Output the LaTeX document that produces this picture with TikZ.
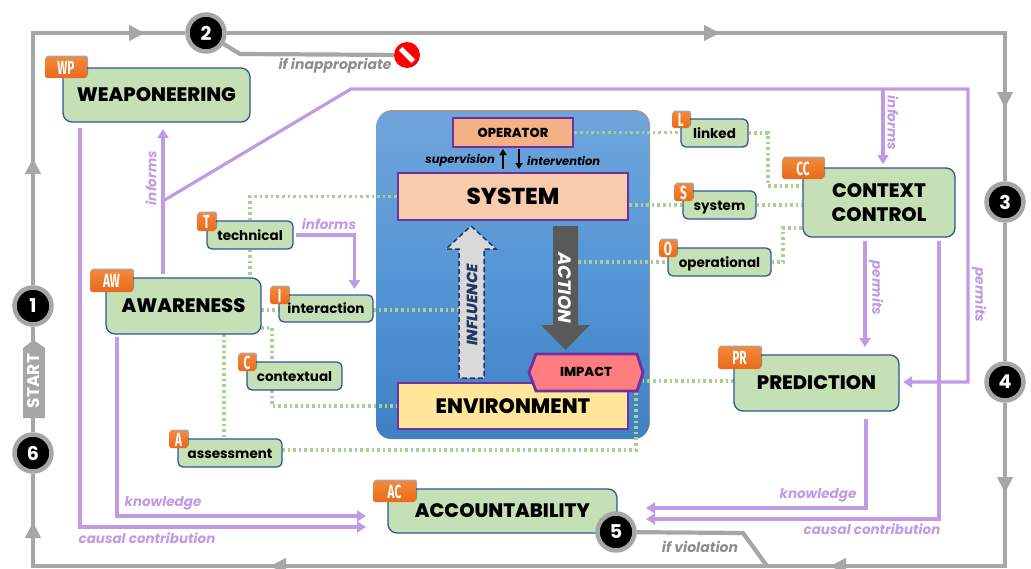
\documentclass[tikz,border=0pt]{standalone}
\usepackage{fontspec}
\setmainfont{Poppins}
\newfontfamily\heavyfont{Poppins ExtraBold}
\newfontfamily\badgefont[FakeStretch=0.62]{Fira Sans}
\usetikzlibrary{arrows.meta,shadows,backgrounds}
\definecolor{framegray}{HTML}{A6A6A6}
\definecolor{lilac}{HTML}{C09AE2}
\definecolor{boxgreen}{HTML}{C5E0B4}
\definecolor{boxblue}{HTML}{2F5597}
\definecolor{dotgreen}{HTML}{A9D18E}
\definecolor{deeppurple}{HTML}{7030A0}
\definecolor{navy}{HTML}{1F3864}
\definecolor{badgetop}{HTML}{F4883A}
\definecolor{badgebottom}{HTML}{E96A1C}
\definecolor{paneltop}{HTML}{6FA5DC}
\definecolor{panelmid}{HTML}{5596D6}
\definecolor{panelbottom}{HTML}{3F80C4}
\definecolor{operatorfill}{HTML}{F4B183}
\definecolor{systemfill}{HTML}{F8CBAD}
\definecolor{envfill}{HTML}{FFE699}
\definecolor{impactfill}{HTML}{FF7C80}
\definecolor{influencefill}{HTML}{D9D9D9}
\definecolor{actionfill}{HTML}{595959}
\tikzset{
	framepath/.style={draw=framegray, line width=4.2},
	frametip/.style={draw=framegray, line width=4.2, -{Triangle[length=16,width=15]}},
	stepmark/.style={circle, draw=framegray, line width=4.5, fill=black, text=white, minimum size=37, inner sep=0, font=\bfseries\fontsize{19}{19}\selectfont},
	purplearrow/.style={draw=lilac, line width=3.2, -{Triangle[length=9,width=11]}},
	greenlink/.style={draw=dotgreen, line width=3.2, dash pattern=on 2.6 off 3},
	bigbox/.style={draw=boxblue, line width=1.3, fill=boxgreen, rounded corners=9, inner sep=0, align=center, font=\heavyfont\fontsize{19.5}{24.5}\selectfont},
	smallbox/.style={draw=boxblue, line width=1.3, fill=boxgreen, rounded corners=5, inner sep=0, text height=12, text depth=2, font=\fontsize{13.5}{14}\selectfont\bfseries},
	badge/.style={rounded corners=2.5, top color=badgetop, bottom color=badgebottom, text=white, inner sep=0, font=\badgefont\bfseries\fontsize{19}{19}\selectfont, drop shadow={shadow xshift=1, shadow yshift=-1.5, opacity=0.35, fill=black}},
	redbox/.style={draw=deeppurple, line width=2.8, inner sep=0, font=\heavyfont\fontsize{23}{23}\selectfont},
	plainlabel/.style={inner sep=0, text=lilac, font=\bfseries\itshape\fontsize{13.5}{14}\selectfont},
	graylabel/.style={inner sep=0, text=framegray!85!black, font=\bfseries\itshape\fontsize{14}{14}\selectfont},
	blacklabel/.style={inner sep=0, font=\bfseries\itshape\fontsize{11.5}{12}\selectfont}
}
\begin{document}
\begin{tikzpicture}[x=1pt, y=-1pt]
	\useasboundingbox (0,0) rectangle (1031,568);
	% blue panel goes under everything
	\begin{pgfonlayer}{background}
		\node[rounded corners=15, minimum width=273, minimum height=327, inner sep=0, top color=paneltop, bottom color=panelbottom, middle color=panelmid, drop shadow={shadow xshift=1, shadow yshift=-2, opacity=0.4, fill=black}] (panel) at (512.5,275.5) {};
	\end{pgfonlayer}

	% corners of the loop
	\coordinate (topleft) at (33,33);
	\coordinate (topright) at (1005,33);
	\coordinate (bottomright) at (1005,566);
	\coordinate (bottomleft) at (33,566);
	\coordinate (halt) at (240,54);
	\coordinate (veerstart) at (743,533);
	\coordinate (veerend) at (767,566);

	% main green boxes
	\node[bigbox, minimum width=187, minimum height=54] (weaponeering) at (156.5,95) {WEAPONEERING};
	\node[bigbox, minimum width=155, minimum height=56] (awareness) at (183.5,306) {AWARENESS};
	\node[bigbox, minimum width=152, minimum height=69] (contextcontrol) at (879,202.5) {CONTEXT\\CONTROL};
	\node[bigbox, minimum width=165, minimum height=56] (prediction) at (816.5,383) {PREDICTION};
	\node[bigbox, minimum width=229, minimum height=44] (accountability) at (502.5,511) {ACCOUNTABILITY};

	% small green boxes
	\node[smallbox, minimum width=86, minimum height=28] (technical) at (250,235) {technical};
	\node[smallbox, minimum width=94, minimum height=27] (interaction) at (326,308.5) {interaction};
	\node[smallbox, minimum width=95, minimum height=28] (contextual) at (294.5,376) {contextual};
	\node[smallbox, minimum width=104, minimum height=28] (assessment) at (230,453) {assessment};
	\node[smallbox, minimum width=67, minimum height=28] (linked) at (714.5,133) {linked};
	\node[smallbox, minimum width=73, minimum height=28] (system) at (719.5,205) {system};
	\node[smallbox, minimum width=103, minimum height=28] (operational) at (719.5,262) {operational};

	% orange badges
	\node[badge, minimum width=42, minimum height=21] (wpbadge) at (66,67.5) {WP};
	\node[badge, minimum width=43, minimum height=22] (awbadge) at (111.5,281) {AW};
	\node[badge, minimum width=42, minimum height=21] (ccbadge) at (803,168.5) {CC};
	\node[badge, minimum width=43, minimum height=22] (prbadge) at (739.5,358) {PR};
	\node[badge, minimum width=43, minimum height=21] (acbadge) at (394.5,491.5) {AC};
	\node[badge, minimum width=19, minimum height=18] (tbadge) at (206.5,222) {T};
	\node[badge, minimum width=19, minimum height=17] (ibadge) at (279.5,295.5) {I};
	\node[badge, minimum width=18, minimum height=17] (cbadge) at (247,362.5) {C};
	\node[badge, minimum width=19, minimum height=17] (abadge) at (178.5,439.5) {A};
	\node[badge, minimum width=18, minimum height=16] (lbadge) at (681,120) {L};
	\node[badge, minimum width=19, minimum height=17] (sbadge) at (683.5,192.5) {S};
	\node[badge, minimum width=18, minimum height=17] (obadge) at (668,248.5) {O};

	% steps on the loop
	\node[stepmark] (stepone) at (33,306) {1};
	\node[stepmark] (steptwo) at (206,33) {2};
	\node[stepmark] (stepthree) at (1005,202) {3};
	\node[stepmark] (stepfour) at (1005,382) {4};
	\node[stepmark] (stepfive) at (616,532) {5};
	\node[stepmark] (stepsix) at (33,453) {6};

	% inside the panel
	\node[redbox, fill=operatorfill, minimum width=120, minimum height=29, font=\heavyfont\fontsize{13}{13}\selectfont] (operator) at (513,132.5) {OPERATOR};
	\node[redbox, fill=systemfill, minimum width=230, minimum height=47] (systembar) at (513,196.5) {SYSTEM};
	\node[redbox, fill=envfill, minimum width=230, minimum height=46, font=\heavyfont\fontsize{20.8}{21}\selectfont] (environment) at (513,406) {ENVIRONMENT};
	\draw[draw=deeppurple, line width=2.8, fill=impactfill] (536,354) -- (637,354) -- (643,372.5) -- (637,391) -- (536,391) -- (529,372.5) -- cycle;
	\node[inner sep=0, font=\heavyfont\fontsize{13}{13}\selectfont] (impact) at (586,372) {IMPACT};
	\draw[fill=influencefill, draw=navy, line width=1.5, dash pattern=on 5 off 3] (459,378) -- (459,249) -- (446,249) -- (471,226) -- (496,249) -- (484,249) -- (484,378) -- cycle;
	\node[inner sep=0, rotate=90, text=navy, font=\heavyfont\itshape\fontsize{15}{15}\selectfont] (influence) at (472,305) {INFLUENCE};
	\fill[fill=actionfill] (553,226) -- (578,226) -- (578,325) -- (590,325) -- (565.5,350) -- (541,325) -- (553,325) -- cycle;
	\node[inner sep=0, rotate=-90, text=white, font=\bfseries\itshape\fontsize{18}{18}\selectfont] (action) at (565,287.5) {ACTION};
	\node[blacklabel, anchor=east] (supervision) at (495,160.5) {supervision};
	\node[blacklabel, anchor=west] (intervention) at (527,160.5) {intervention};
	\coordinate (supbottom) at (503,169);
	\coordinate (suptop) at (503,149);
	\coordinate (intbottom) at (519,169);
	\coordinate (inttop) at (519,149);
	\draw[line width=1.8, -{Triangle[length=6,width=7]}] (supbottom) -- (suptop);
	\draw[line width=1.8, -{Triangle[length=6,width=7]}] (inttop) -- (intbottom);

	% START tag and stop sign
	\draw[fill=framegray, draw=none] (23,418) -- (23,348) -- (33.5,340) -- (45,348) -- (45,418) -- cycle;
	\node[inner sep=0, rotate=90, text=white, font=\bfseries\fontsize{17}{17}\selectfont] (start) at (34,381) {START};
	\node[circle, fill=red, minimum size=26, inner sep=0] (stopsign) at (407,55) {};
	\draw[draw=white, line width=5] ([shift={(3,3)}]stopsign.135) -- ([shift={(-3,-3)}]stopsign.-45);
	\node[graylabel] (inappropriate) at (335,66) {if inappropriate};
	\node[graylabel] (violation) at (700,547) {if violation};

	% purple labels
	\node[plainlabel, rotate=90] (informsup) at (151,178) {informs};
	\node[plainlabel] (informsright) at (329,224) {informs};
	\node[plainlabel, rotate=-90] (informsdown) at (893,123) {informs};
	\node[plainlabel, rotate=-90] (permitsleft) at (876,288) {permits};
	\node[plainlabel, rotate=-90] (permitsright) at (979,295) {permits};
	\node[plainlabel] (knowledgeleft) at (163,503) {knowledge};
	\node[plainlabel] (knowledgeright) at (818,495) {knowledge};
	\node[plainlabel] (causalleft) at (147,538) {causal contribution};
	\node[plainlabel] (causalright) at (872,529) {causal contribution};

	% junctions of the purple lines
	\coordinate (wpdown) at (80,128);
	\coordinate (wpcorner) at (80,527);
	\coordinate (wpin) at (366,527);
	\coordinate (awdown) at (117,337);
	\coordinate (awcorner) at (117,516);
	\coordinate (awin) at (366,516);
	\coordinate (awup) at (163,274);
	\coordinate (wpinform) at (163,129);
	\coordinate (fork) at (163,201);
	\coordinate (ridge) at (351,89);
	\coordinate (farcorner) at (968,89);
	\coordinate (lowcorner) at (968,382);
	\coordinate (prin) at (903,382);
	\coordinate (ccdrop) at (883,89);
	\coordinate (ccin) at (883,164);
	\coordinate (techout) at (296,235);
	\coordinate (techcorner) at (354.5,235);
	\coordinate (intin) at (354.5,289);
	\coordinate (permitout) at (865,241);
	\coordinate (permitin) at (865,347);
	\coordinate (causalout) at (939,241);
	\coordinate (causalcorner) at (939,519);
	\coordinate (causalin) at (646,519);
	\coordinate (prout) at (866,419);
	\coordinate (prcorner) at (866,508);
	\coordinate (knowin) at (646,508);

	% junctions of the dotted links
	\coordinate (linkup) at (768,133);
	\coordinate (linkdown) at (768,186);
	\coordinate (linkin) at (803,186);
	\coordinate (actionedge) at (578,262);
	\coordinate (opup) at (783,262);
	\coordinate (opdown) at (783,228);
	\coordinate (opin) at (803,228);
	\coordinate (awinter) at (261,310);
	\coordinate (interin) at (279,310);
	\coordinate (interout) at (373,310);
	\coordinate (influenceedge) at (459,310);
	\coordinate (awcontext) at (261,328);
	\coordinate (contextknee) at (272,328);
	\coordinate (contexttop) at (272,362);
	\coordinate (contextbottom) at (272,390);
	\coordinate (envknee) at (272,406);
	\coordinate (awbottom) at (224,334);
	\coordinate (assesstop) at (224,439);
	\coordinate (assessout) at (282,450);
	\coordinate (impactknee) at (636,450);
	\coordinate (impactunder) at (636,391);
	\coordinate (prleft) at (734,381);
	\coordinate (impactright) at (643,381);

	\begin{pgfonlayer}{background}
		% outer loop
		\draw[framepath] (stepsix) -- (stepone) -- (topleft) -- (steptwo) -- (topright) -- (stepthree) -- (stepfour) -- (bottomright) -- (bottomleft) -- (stepsix);
		\draw[framepath] (steptwo) -- (halt) -- (stopsign);
		\draw[framepath] (stepfive) -- (veerstart) -- (veerend);
		\draw[frametip] (33,190) -- (33,158);
		\draw[frametip] (33,550) -- (33,522);
		\draw[frametip] (110,33) -- (145,33);
		\draw[frametip] (690,33) -- (720,33);
		\draw[frametip] (1005,80) -- (1005,108);
		\draw[frametip] (1005,470) -- (1005,493);
		\draw[frametip] (860,566) -- (830,566);
		\draw[frametip] (300,566) -- (270,566);

		% purple lines
		\draw[purplearrow] (wpdown) -- (wpcorner) -- (wpin);
		\draw[purplearrow] (awdown) -- (awcorner) -- (awin);
		\draw[purplearrow] (awup) -- (wpinform);
		\draw[purplearrow] (fork) -- (ridge) -- (farcorner) -- (lowcorner) -- (prin);
		\draw[purplearrow] (ccdrop) -- (ccin);
		\draw[purplearrow] (techout) -- (techcorner) -- (intin);
		\draw[purplearrow] (permitout) -- (permitin);
		\draw[purplearrow] (causalout) -- (causalcorner) -- (causalin);
		\draw[purplearrow] (prout) -- (prcorner) -- (knowin);

		% dotted links
		\draw[greenlink] (operator.east) -- (operator.east -| linked.west);
		\draw[greenlink] (linked.east) -- (linkup) -- (linkdown) -- (linkin);
		\draw[greenlink] (systembar.east |- system.west) -- (system.west);
		\draw[greenlink] (system.east) -- (contextcontrol.west |- system.east);
		\draw[greenlink] (actionedge) -- (operational.west);
		\draw[greenlink] (operational.east) -- (opup) -- (opdown) -- (opin);
		\draw[greenlink] (systembar.west) -- (technical.north |- systembar.west) -- (technical.north);
		\draw[greenlink] (technical.south) -- (technical.south |- awareness.north);
		\draw[greenlink] (awinter) -- (interin);
		\draw[greenlink] (interout) -- (influenceedge);
		\draw[greenlink] (awcontext) -- (contextknee) -- (contexttop);
		\draw[greenlink] (contextbottom) -- (envknee) -- (environment.west);
		\draw[greenlink] (awbottom) -- (assesstop);
		\draw[greenlink] (assessout) -- (impactknee) -- (impactunder);
		\draw[greenlink] (prleft) -- (impactright);
	\end{pgfonlayer}
\end{tikzpicture}
\end{document}
